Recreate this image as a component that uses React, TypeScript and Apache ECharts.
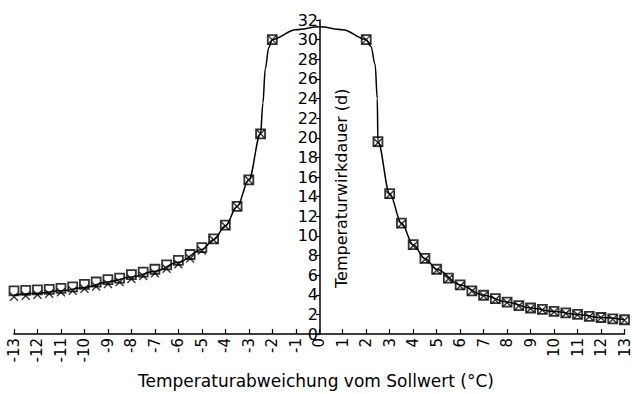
import React, { useEffect, useRef } from "react";
import * as echarts from "echarts";

const xTicks = [-13, -12, -11, -10, -9, -8, -7, -6, -5, -4, -3, -2, -1, 0, 1, 2, 3, 4, 5, 6, 7, 8, 9, 10, 11, 12, 13];

const leftX = [-13, -12.5, -12, -11.5, -11, -10.5, -10, -9.5, -9, -8.5, -8, -7.5, -7, -6.5, -6, -5.5, -5, -4.5, -4, -3.5, -3, -2.5, -2];
const leftSquares = [4.4, 4.45, 4.5, 4.55, 4.65, 4.8, 5.05, 5.3, 5.55, 5.7, 6.05, 6.3, 6.6, 7.05, 7.5, 8.1, 8.8, 9.7, 11.1, 13.0, 15.7, 20.4, 30.0];
const leftCrosses = [3.8, 3.9, 4.0, 4.1, 4.25, 4.4, 4.6, 4.85, 5.1, 5.3, 5.6, 5.9, 6.2, 6.65, 7.1, 7.7, 8.5, 9.6, 11.0, 13.0, 15.7, 20.4, 30.0];

const rightX = [2, 2.5, 3, 3.5, 4, 4.5, 5, 5.5, 6, 6.5, 7, 7.5, 8, 8.5, 9, 9.5, 10, 10.5, 11, 11.5, 12, 12.5, 13];
const rightSquares = [30.0, 19.6, 14.3, 11.3, 9.1, 7.7, 6.6, 5.7, 5.0, 4.4, 3.95, 3.6, 3.25, 2.9, 2.65, 2.5, 2.3, 2.15, 2.0, 1.8, 1.68, 1.55, 1.45];
const rightCrosses = [30.0, 19.5, 14.2, 11.2, 9.0, 7.6, 6.5, 5.6, 4.9, 4.35, 3.9, 3.5, 3.2, 2.85, 2.6, 2.45, 2.25, 2.1, 1.95, 1.75, 1.65, 1.5, 1.4];

const lineX = [-13, -12, -11, -10, -9, -8, -7, -6, -5, -4.5, -4, -3.5, -3, -2.5, -2.4, -2.3, -2.15, -2, -1, 0, 1, 2, 2.2, 2.38, 2.47, 2.5, 3, 3.5, 4, 4.5, 5, 6, 7, 8, 9, 10, 11, 12, 13];
const lineY = [3.95, 4.15, 4.4, 4.75, 5.3, 5.8, 6.4, 7.3, 8.6, 9.6, 11.0, 13.0, 15.7, 20.4, 23.5, 27.0, 29.2, 30.0, 31.0, 31.3, 31.0, 30.0, 29.3, 27.5, 24.0, 19.6, 14.3, 11.3, 9.1, 7.7, 6.6, 5.0, 3.95, 3.25, 2.65, 2.3, 2.0, 1.68, 1.45];

const xTitle = "Temperaturabweichung vom Sollwert (°C)";
const yTitle = "Temperaturwirkdauer (d)";

const pairs = (xs: number[], ys: number[]) => xs.map((x, i) => [x, ys[i]]);

export default function App() {
  const ref = useRef<HTMLDivElement>(null);
  useEffect(() => {
    if (!ref.current) return;
    const chart = echarts.init(ref.current, null, { renderer: "svg" });
    const font = "DejaVu Sans";
    const gridLeft = 14;
    const gridRight = 6;
    const plotW = 632 - gridLeft - gridRight;
    const zeroOffset = (plotW * 13) / 26;
    chart.setOption({
      animation: false,
      backgroundColor: "#fff",
      grid: { left: gridLeft, right: gridRight, top: 20, bottom: 60, containLabel: false },
      xAxis: {
        type: "value",
        min: -13,
        max: 13,
        interval: 1,
        axisLine: { onZero: false, lineStyle: { color: "#000", width: 1.5 } },
        axisTick: { inside: true, length: 5, lineStyle: { color: "#000", width: 1.2 } },
        axisLabel: {
          rotate: 90,
          color: "#000",
          fontFamily: font,
          fontSize: 15,
          margin: 4,
          formatter: (v: number) => (xTicks.includes(v) ? String(v) : ""),
        },
        splitLine: { show: false },
      },
      yAxis: {
        type: "value",
        min: 0,
        max: 32,
        interval: 2,
        offset: -zeroOffset,
        axisLine: { show: true, onZero: false, lineStyle: { color: "#000", width: 1.5 } },
        axisTick: { show: true, inside: false, length: 4, lineStyle: { color: "#000", width: 1.2 } },
        axisLabel: { color: "#000", fontFamily: font, fontSize: 16, margin: 2 },
        splitLine: { show: false },
      },
      graphic: [
        {
          type: "text",
          left: "center",
          top: 372,
          style: { text: xTitle, font: `17px '${font}'`, fill: "#000" },
        },
        {
          type: "text",
          x: 333,
          y: 288,
          rotation: Math.PI / 2,
          style: { text: yTitle, font: `16px '${font}'`, fill: "#000", textVerticalAlign: "top" },
        },
      ],
      series: [
        {
          type: "line",
          data: pairs(lineX, lineY),
          smooth: 0.35,
          smoothMonotone: "x",
          showSymbol: false,
          lineStyle: { color: "#000", width: 1.5 },
          z: 1,
        },
        {
          type: "scatter",
          data: [...pairs(leftX, leftSquares), ...pairs(rightX, rightSquares)],
          symbol: "rect",
          symbolSize: 9,
          itemStyle: { color: "rgba(0,0,0,0)", borderColor: "#000", borderWidth: 1.8 },
          z: 2,
        },
        {
          type: "scatter",
          data: [...pairs(leftX, leftCrosses), ...pairs(rightX, rightCrosses)],
          symbol: "path://M0,0L10,10M10,0L0,10",
          symbolSize: 8,
          itemStyle: { color: "rgba(0,0,0,0)", borderColor: "#000", borderWidth: 1.4 },
          z: 3,
        },
      ],
    });
    return () => chart.dispose();
  }, []);
  return <div ref={ref} style={{ width: 632, height: 394, position: "absolute", left: 0, top: 0 }} />;
}
